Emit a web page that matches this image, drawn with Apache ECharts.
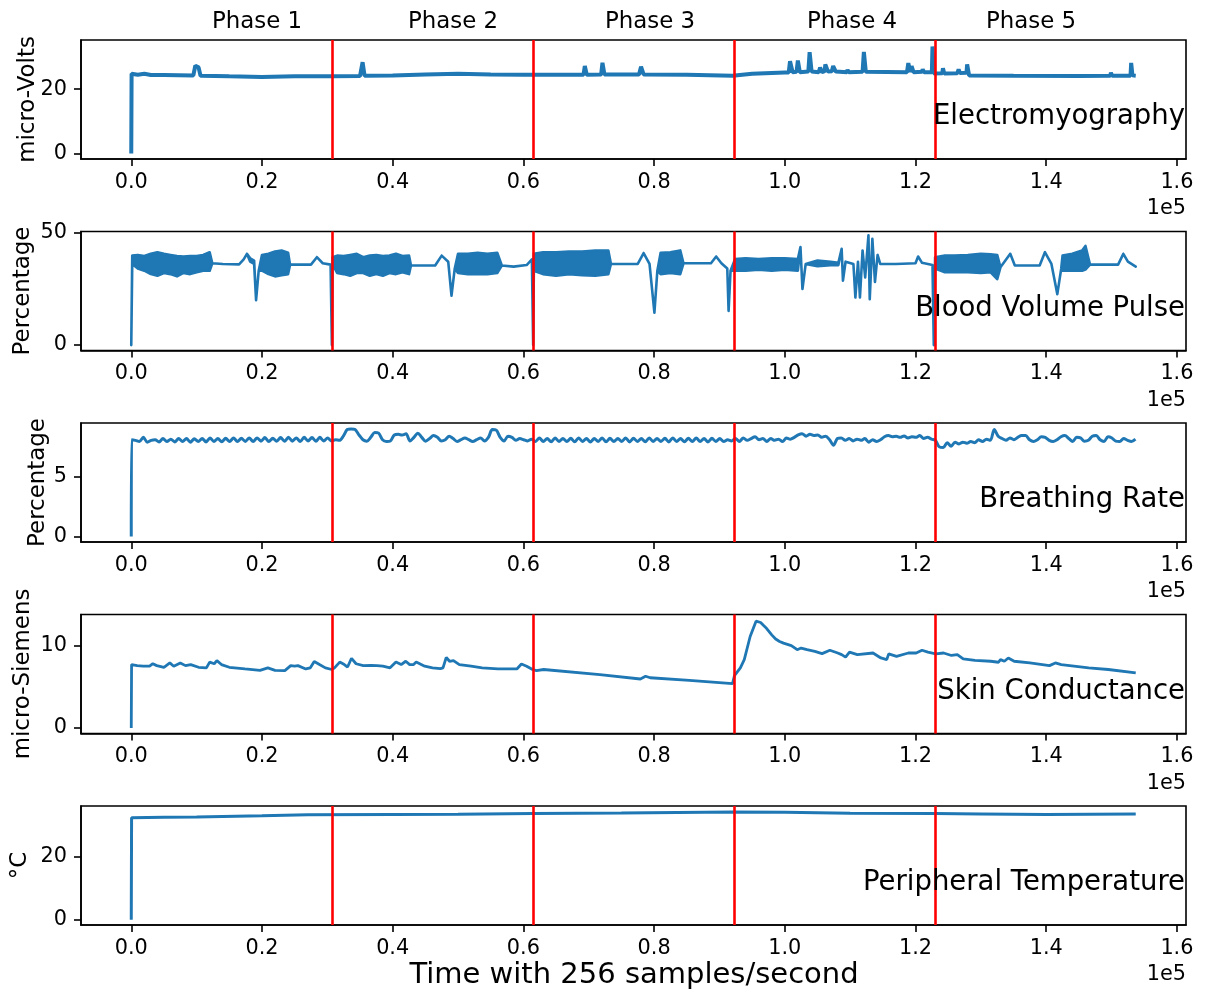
<!DOCTYPE html>
<html><head><meta charset="utf-8">
<script src="https://cdn.jsdelivr.net/npm/echarts@6/dist/echarts.min.js"></script>
<style>html,body{margin:0;padding:0;background:#fff}#c{width:1212px;height:996px}</style>
</head><body><div id="c"></div>
<script>
// ---------- data (x in thousands of samples) ----------
const phaseLabels = ['Phase 1', 'Phase 2', 'Phase 3', 'Phase 4', 'Phase 5'];
const phaseBounds = [30.74, 61.48, 92.22, 122.96];
const xTicks = [0, 20000, 40000, 60000, 80000, 100000, 120000, 140000, 160000];
const panelNames = ['Electromyography', 'Blood Volume Pulse', 'Breathing Rate', 'Skin Conductance', 'Peripheral Temperature'];
const yNames = ['micro-Volts', 'Percentage', 'Percentage', 'micro-Siemens', '°C'];
const yTicks = [[0, 20], [0, 50], [0, 5], [0, 10], [0, 20]];

// Electromyography
const emgT = [0,0.05,1,2,3,5,9.5,9.8,10.3,10.6,15,20,25,30.7,35,35.4,35.7,40,45,50,55,60,65,69.2,69.4,69.7,71.9,72.1,72.4,77.7,78,78.4,85,92,95,100,100.6,100.8,101.2,101.8,102.0,102.3,103.6,103.8,104.1,105.2,105.4,105.7,106.1,106.2,106.6,107.2,107.4,107.8,109.5,109.6,109.8,111.9,112.1,112.4,118.7,118.9,119.2,119.4,119.7,121.0,121.1,121.3,122.5,122.6,122.8,124.1,124.2,124.4,126.4,126.6,126.8,127.8,127.9,128.2,135,145,149.8,149.9,150.1,152.9,153.0,153.2,153.7];
const emgV = [0,24.8,24.5,24.8,24.4,24.4,24.3,27.3,26.8,24.2,24.0,23.8,24.0,24.0,24.1,28.4,24.2,24.3,24.6,24.8,24.6,24.5,24.5,24.5,27.2,24.5,24.6,28.2,24.6,24.6,27.0,24.6,24.5,24.2,24.8,25.2,25.2,28.7,25.3,25.4,28.9,25.3,25.5,31.5,25.5,25.3,26.7,25.3,25.6,27.7,25.5,25.6,27.2,25.5,25.3,26.0,25.3,25.4,31.6,25.4,25.3,28.1,25.3,27.2,25.3,25.4,26.2,25.3,25.3,33.3,24.9,25.0,26.5,24.9,25.0,26.2,25.0,25.1,27.7,24.3,24.2,24.1,24.2,25.1,24.2,24.2,28.2,24.3,24.2];

// Blood volume pulse: time, upper and lower envelope of the trace
const bvpT = [0,0.15,1,2,3,4,5,6,7,8,9,10,11,12,12.4,14,16.5,17.2,17.7,18.2,18.8,19.1,19.5,20,21,22,23,24,24.3,27.5,28.4,29.3,30.5,30.7,30.8,31.5,32.5,33.5,34.5,35.5,36.5,37.5,38.5,39.5,40.5,41.5,42.5,42.8,46.5,47.5,48.5,49,49.5,50,51.5,53,54.5,56,56.7,58.5,60.5,61.3,61.5,61.6,63,65,67,69,71,73,73.4,77.5,78.4,79.3,80.05,80.5,81,82.5,84,84.5,88.7,89.5,90.3,91.2,91.4,91.7,92.4,94,96,98,100,102,102.4,102.7,103.2,105,107,108.2,108.7,108.9,109.3,110.5,110.8,111.2,111.5,111.9,112.3,112.8,113.0,113.4,113.8,114.2,114.6,117,120,120.4,121,122.6,122.8,123.0,124.5,126,128,130,131.5,132.5,133,134.5,135.2,139,139.8,140.8,141.7,142.3,142.5,144,145.5,146,146.7,151,151.8,152.5,153.7];
const bvpHi = [0,39.7,40,39.5,40.5,41.2,40.5,40,39.5,39.3,39.5,39.5,40,41.2,36.3,36,35.8,38,40.5,38.5,37.5,19.9,33,40,40.5,41.5,42,41,35.7,35.7,39,36.3,35.7,0,39,39.7,39.5,40,40.5,39,39.7,40,39.5,39.7,40.5,39.5,39.7,35.3,35.3,39.7,37,21.9,34,40.5,40.5,41,40.5,41,35.3,34.8,35.5,38,0,40.5,41.2,41.2,41.5,41.5,42,42,36,36,40.8,36,14.4,33,41,41.2,42,36.3,36.3,39.3,36.3,34,15.2,33,38.2,38.5,38.2,38.5,38.5,38.2,43.5,24.9,36,37.5,37,36.5,42.7,28.6,37,36,21.1,37,21.1,42,30,48.7,20.4,47.2,28,40,36,36,36.3,39.3,36.5,35.5,0,39,39.7,39.7,40,40.5,40.3,40,34.5,40.5,35.3,35.3,41.2,36,22.6,34,39.7,40.5,42,44,35.7,35.7,40.5,37,34.8];
const bvpLo = [0,36,34,33,31.5,30.8,32,31.5,30.5,32,31.5,32.3,33,33,36.3,36,35.8,38,40.5,37,36,19.9,33,33,31.5,30.5,31,31.5,35.7,35.7,39,36.3,35.7,0,36,32,31.5,30.8,32,32,30.8,31.5,30.8,32,31.5,32.3,31.5,35.3,35.3,39.7,37,21.9,34,32,31.5,31.5,31.5,32,35.3,34.8,35.5,38,0,33,31.5,30.8,31.5,31,30.8,31.5,36,36,40.8,36,14.4,33,31.5,32,31.5,36.3,36.3,39.3,36.3,34,15.2,33,33,33,33.5,33,33.5,33,43.5,24.9,36,35,35.5,35.5,42.7,28.6,37,36,21.1,37,21.1,42,30,48.7,20.4,47.2,28,40,36,36,36.3,39.3,36.5,35.5,0,34,32.3,32.5,32.3,32,32.3,29.3,34.5,40.5,35.3,35.3,41.2,36,22.6,34,33,33,33,33.5,35.7,35.7,40.5,37,34.8];

// Breathing rate: one value every 0.6k samples, per phase (first value at phase start)
const brStep = 0.6;
const brStarts = [0.05, 30.65, 61.25, 91.85, 122.45];
const brP1 = [8.1,8.05,7.95,8.3,7.9,8.05,8.1,7.92,8.2,7.95,8.15,7.92,8.2,7.95,8.2,7.9,8.18,7.95,8.2,7.92,8.25,7.95,8.2,7.93,8.22,7.95,8.25,7.95,8.22,7.96,8.25,7.95,8.25,7.98,8.28,7.95,8.22,7.97,8.28,7.98,8.3,7.98,8.25,7.95,8.3,8.0,8.28,7.98,8.3,8.0,8.25];
const brP2 = [8.0,8.1,8.05,8.4,8.95,9.0,8.95,8.5,8.1,7.98,8.3,8.7,8.65,8.1,7.96,8.0,8.5,8.55,8.5,8.6,8.0,8.3,8.65,8.3,7.98,8.2,8.45,8.3,8.0,8.1,8.4,8.2,7.96,8.1,8.25,8.1,7.96,8.1,8.25,8.0,8.3,8.95,8.9,8.3,8.0,8.4,8.3,8.05,8.2,8.1,8.0];
const brP3 = [8.15,7.95,8.25,7.95,8.2,7.93,8.25,7.95,8.2,7.95,8.22,7.93,8.25,7.95,8.2,7.92,8.2,7.95,8.25,7.93,8.22,7.95,8.2,7.95,8.25,7.92,8.22,7.95,8.2,7.93,8.25,7.95,8.2,7.95,8.22,7.92,8.25,7.95,8.2,7.93,8.22,7.95,8.25,7.95,8.2,7.92,8.22,7.95,8.2,7.95,8.1];
const brP4 = [8.0,8.2,7.95,8.25,8.05,8.2,8.35,8.1,8.2,7.95,8.2,8.05,8.15,7.95,8.25,8.15,8.3,8.5,8.6,8.4,8.55,8.45,8.5,8.3,8.4,8.1,7.65,8.2,8.25,8.05,8.2,8.0,8.15,8.05,8.2,7.9,8.1,7.95,8.1,8.35,8.45,8.35,8.4,8.3,8.42,8.25,8.35,8.3,8.45,8.2,8.3];
const brP5 = [8.15,8.05,7.5,7.45,7.85,7.55,7.9,7.75,7.9,7.8,7.95,7.85,8.1,7.95,8.15,8.05,8.95,8.4,8.2,8.05,8.25,8.1,8.3,8.45,8.45,8.1,7.95,8.1,8.35,8.3,8.05,7.95,8.1,8.35,8.45,8.2,7.95,8.3,8.25,7.98,8.05,8.4,8.45,8.1,7.95,8.35,8.25,7.98,7.95,8.2,8.05,7.95,8.15];

// Skin conductance
const scT = [0,0.05,0.9,1.8,2.1,2.8,3.3,3.9,5.0,5.9,6.5,7.5,8.3,9.1,10.3,11.5,12.0,12.7,13.1,13.8,15.0,17.4,19.7,20.9,22.0,23.5,24.4,25.0,25.5,26.7,27.4,28.0,28.8,29.7,30.7,31.1,31.9,32.6,33.1,33.7,34.4,35.5,36.7,37.6,38.5,39.6,40.5,41.3,42.0,42.6,43.2,43.6,44.9,46.1,47.3,47.7,48.2,48.7,49.3,50.2,52.0,53.7,56.1,57.8,59.0,59.7,60.5,61.4,62.0,63.1,71.7,77.9,78.7,79.4,85.4,92.0,92.3,93.2,93.8,94.7,95.6,95.9,96.3,96.8,97.2,98.0,98.6,99.2,99.8,101.0,101.9,102.5,103.4,104.6,105.7,106.9,108.1,108.7,109.3,109.9,111.1,113.5,114.7,115.6,115.9,117.1,118.9,120.1,121.0,121.9,123.1,124.3,125.5,126.4,127.3,129.1,131.5,132.7,133.0,133.6,134.2,135.1,137.5,140.5,141.4,142.3,146.5,149.5,153.7];
const scV = [0,7.7,7.57,7.5,7.65,7.5,7.8,7.57,7.37,7.9,7.5,7.9,7.57,7.7,7.37,7.3,8.0,7.8,8.18,7.7,7.37,7.17,7.0,7.3,7.0,6.96,7.57,7.5,7.57,7.17,7.3,8.06,7.7,7.3,7.1,7.3,8.0,7.7,7.4,8.46,7.8,7.57,7.6,7.57,7.5,7.3,8.0,7.7,8.1,7.7,7.7,8.0,7.5,7.3,7.2,7.3,8.58,8.1,8.18,7.7,7.5,7.3,7.17,7.17,7.17,7.77,7.5,7.1,6.96,7.1,6.48,5.95,6.28,6.1,5.79,5.38,6.36,7.3,8.3,11.1,12.96,13.15,12.8,12.4,12.1,11.3,10.8,10.5,10.3,10.0,9.5,9.7,9.5,9.3,9.03,9.43,9.1,8.9,8.6,9.2,8.9,9.1,8.5,8.3,9.0,8.7,9.1,9.1,9.43,9.2,9.0,9.1,8.8,8.9,8.38,8.2,8.1,7.98,8.3,8.1,8.5,8.1,7.9,7.57,7.9,7.7,7.3,7.1,6.68];

// Peripheral temperature
const tempT = [0,0.05,5,10,20,27,40,50,61.5,75,92,100,110,123,130,140,153.7];
const tempV = [0,32.3,32.4,32.5,32.9,33.2,33.3,33.4,33.6,33.8,34.1,34.0,33.7,33.6,33.5,33.3,33.5];

// ---------- build ----------
const BLUE = '#1f77b4';
const FONT = 'DejaVu Sans';
const pairs = (T, V) => T.map((t, i) => [t * 1000, V[i]]).filter(p => p[1] !== undefined);
const brData = [[0, 0]];
[brP1, brP2, brP3, brP4, brP5].forEach((arr, p) => arr.forEach((v, j) => brData.push([(brStarts[p] + j * brStep) * 1000, v])));

const tops = [40, 231.5, 423, 614.5, 806];
const H = 119, LEFT = 81, W = 1105;
const yRange = [[-1.7, 35.3], [-2.4, 50.4], [-0.45, 9.5], [-0.66, 13.77], [-1.7, 36.0]];
const nameGaps = [41, 46, 31, 46, 49];

const grids = [], xAxes = [], yAxes = [], series = [], graphics = [];
for (let i = 0; i < 5; i++) {
  grids.push({left: LEFT, top: tops[i], width: W, height: H, show: true, borderColor: '#000', borderWidth: 1.6, backgroundColor: 'transparent'});
  xAxes.push({
    gridIndex: i, type: 'value', min: -7690, max: 161390,
    axisLine: {onZero: false, lineStyle: {color: '#000', width: 1.6}},
    axisTick: {show: true, length: 7, customValues: xTicks, lineStyle: {color: '#000', width: 1.6}},
    axisLabel: {customValues: xTicks, formatter: v => (v / 1e5).toFixed(1), fontSize: 20.8, color: '#000', fontFamily: FONT, margin: 13},
    splitLine: {show: false}
  });
  yAxes.push({
    gridIndex: i, type: 'value', min: yRange[i][0], max: yRange[i][1],
    name: yNames[i], nameLocation: 'middle', nameRotate: 90, nameGap: nameGaps[i], nameMoveOverlap: false,
    nameTextStyle: {fontSize: 22.9, color: '#000', fontFamily: FONT},
    axisLine: {show: true, onZero: false, lineStyle: {color: '#000', width: 1.6}},
    axisTick: {show: true, length: 7, customValues: yTicks[i], lineStyle: {color: '#000', width: 1.6}},
    axisLabel: {customValues: yTicks[i], fontSize: 20.8, color: '#000', fontFamily: FONT, margin: 14},
    splitLine: {show: false}
  });
  graphics.push({type: 'text', x: 1185, y: 117 + 191.5 * i, z: 50,
    style: {text: panelNames[i], fontSize: 27.5, fontFamily: FONT, fill: '#000', align: 'right', verticalAlign: 'middle'}});
  graphics.push({type: 'text', x: 1186, y: tops[i] + H + 50, z: 50,
    style: {text: '1e5', fontSize: 20.8, fontFamily: FONT, fill: '#000', align: 'right', verticalAlign: 'middle'}});
}

const lineSeries = (idx, data, extra) => Object.assign({
  type: 'line', xAxisIndex: idx, yAxisIndex: idx, data: data, showSymbol: false, symbol: 'none',
  lineStyle: {color: BLUE, width: 3}, itemStyle: {color: BLUE}, animation: false, z: 2, silent: true
}, extra || {});

series.push(lineSeries(0, pairs(emgT, emgV), {lineStyle: {color: BLUE, width: 4}}));
series.push({
  type: 'custom', xAxisIndex: 1, yAxisIndex: 1, data: [[0, 0]], z: 2, silent: true, animation: false,
  renderItem: function (params, api) {
    const pts = [];
    for (let i = 0; i < bvpT.length; i++) pts.push(api.coord([bvpT[i] * 1000, bvpHi[i]]));
    for (let i = bvpT.length - 1; i >= 0; i--) pts.push(api.coord([bvpT[i] * 1000, bvpLo[i]]));
    return {type: 'polygon', shape: {points: pts}, style: {fill: BLUE, stroke: BLUE, lineWidth: 2.6, lineJoin: 'round'}};
  }
});
series.push(lineSeries(2, brData, {smooth: 0.3}));
series.push(lineSeries(3, pairs(scT, scV), {lineStyle: {color: BLUE, width: 2.8}}));
series.push(lineSeries(4, pairs(tempT, tempV)));

for (let i = 0; i < 5; i++) {
  series.push({
    type: 'line', xAxisIndex: i, yAxisIndex: i, data: [], z: 10, silent: true, animation: false,
    markLine: {silent: true, symbol: 'none', animation: false, label: {show: false},
      lineStyle: {color: '#ff0000', width: 2.6, type: 'solid'},
      data: phaseBounds.map(b => ({xAxis: b * 1000}))}
  });
}

const phaseX = [257, 453, 650, 852, 1031];
phaseLabels.forEach((t, i) => graphics.push({type: 'text', x: phaseX[i], y: 22, z: 50,
  style: {text: t, fontSize: 22.9, fontFamily: FONT, fill: '#000', align: 'center', verticalAlign: 'middle'}}));
graphics.push({type: 'text', x: 634, y: 975, z: 50,
  style: {text: 'Time with 256 samples/second', fontSize: 29, fontFamily: FONT, fill: '#000', align: 'center', verticalAlign: 'middle'}});

const chart = echarts.init(document.getElementById('c'), null, {renderer: 'canvas'});
chart.setOption({
  backgroundColor: '#fff', animation: false,
  grid: grids, xAxis: xAxes, yAxis: yAxes, series: series, graphic: graphics
});
</script>
</body></html>
